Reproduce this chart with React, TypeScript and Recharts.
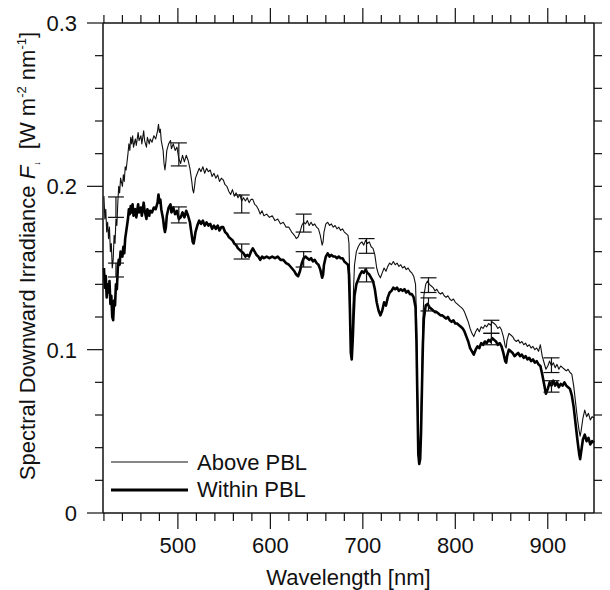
import React from 'react';
import { ComposedChart, Line, Scatter, ErrorBar, XAxis, YAxis, Label } from 'recharts';

// wavelength grid [nm] and the two spectra [W m-2 nm-1]
const wavelengths = [
  420, 421, 422, 423, 424, 425, 426, 427, 428, 429,
  430, 431, 432, 433, 434, 435, 436, 437, 438, 440,
  441, 442, 443, 444, 446, 447, 448, 449, 450, 451,
  452, 454, 455, 457, 458, 460, 461, 463, 464, 466,
  467, 469, 470, 472, 474, 476, 478, 479, 480, 481,
  482, 484, 485, 486, 487, 488, 490, 492, 493, 495,
  497, 499, 501, 503, 505, 507, 509, 511, 513, 515,
  516, 517, 518, 519, 521, 523, 525, 527, 529, 531,
  533, 535, 537, 539, 541, 543, 545, 547, 549, 551,
  553, 555, 557, 559, 561, 563, 565, 567, 569, 571,
  573, 575, 577, 579, 581, 583, 585, 587, 589, 591,
  593, 596, 599, 602, 605, 608, 611, 614, 617, 620,
  623, 626, 628, 630, 632, 634, 636, 638, 640, 642,
  644, 646, 648, 650, 652, 654, 656, 657, 658, 660,
  662, 664, 666, 668, 670, 672, 674, 676, 678, 680,
  682, 684, 685, 686, 687, 688, 689, 690, 691, 693,
  695, 697, 699, 701, 703, 705, 707, 709, 711, 713,
  715, 717, 719, 721, 723, 725, 727, 729, 731, 733,
  735, 737, 739, 741, 743, 745, 747, 749, 751, 753,
  755, 757, 758, 759, 760, 761, 762, 763, 764, 765,
  766, 768, 770, 772, 774, 776, 778, 780, 782, 784,
  786, 788, 790, 792, 794, 796, 798, 800, 802, 804,
  806, 808, 810, 812, 814, 816, 818, 820, 822, 824,
  826, 828, 830, 832, 834, 836, 838, 840, 842, 844,
  846, 848, 850, 852, 854, 855, 856, 858, 860, 862,
  864, 866, 868, 870, 872, 874, 876, 878, 880, 882,
  884, 886, 888, 890, 892, 894, 896, 898, 900, 902,
  904, 906, 908, 910, 912, 914, 916, 918, 920, 922,
  924, 926, 928, 930, 932, 934, 935, 936, 938, 940,
  942, 944, 946, 948, 950,
];

const aboveValues = [
  0.194, 0.180, 0.186, 0.172, 0.178, 0.168, 0.175, 0.160, 0.165, 0.150,
  0.155, 0.170, 0.165, 0.180, 0.176, 0.190, 0.200, 0.196, 0.205, 0.200,
  0.207, 0.203, 0.212, 0.210, 0.220, 0.226, 0.222, 0.230, 0.226, 0.231,
  0.224, 0.229, 0.225, 0.233, 0.228, 0.231, 0.226, 0.234, 0.228, 0.224,
  0.230, 0.226, 0.229, 0.227, 0.231, 0.229, 0.234, 0.238, 0.233, 0.235,
  0.228, 0.222, 0.214, 0.210, 0.215, 0.222, 0.226, 0.228, 0.223, 0.226,
  0.222, 0.224, 0.217, 0.214, 0.219, 0.215, 0.219, 0.216, 0.211, 0.203,
  0.198, 0.196, 0.200, 0.205, 0.208, 0.211, 0.209, 0.212, 0.208, 0.211,
  0.209, 0.210, 0.206, 0.208, 0.205, 0.207, 0.203, 0.205, 0.204, 0.201,
  0.200, 0.197, 0.195, 0.198, 0.194, 0.196, 0.193, 0.195, 0.191, 0.193,
  0.191, 0.193, 0.190, 0.192, 0.192, 0.189, 0.188, 0.186, 0.183, 0.185,
  0.182, 0.183, 0.181, 0.182, 0.179, 0.180, 0.177, 0.178, 0.175, 0.175,
  0.172, 0.170, 0.168, 0.169, 0.172, 0.176, 0.178, 0.177, 0.179, 0.176,
  0.178, 0.176, 0.177, 0.175, 0.174, 0.170, 0.164, 0.166, 0.172, 0.177,
  0.178, 0.176, 0.177, 0.175, 0.176, 0.174, 0.175, 0.173, 0.174, 0.172,
  0.171, 0.170, 0.165, 0.140, 0.112, 0.104, 0.118, 0.138, 0.152, 0.160,
  0.163, 0.165, 0.166, 0.164, 0.167, 0.165, 0.166, 0.163, 0.162, 0.158,
  0.150, 0.146, 0.144, 0.147, 0.150, 0.148, 0.151, 0.153, 0.152, 0.154,
  0.152, 0.153, 0.151, 0.152, 0.150, 0.151, 0.149, 0.150, 0.148, 0.147,
  0.145, 0.140, 0.120, 0.080, 0.045, 0.036, 0.040, 0.060, 0.090, 0.118,
  0.133, 0.140, 0.142, 0.140, 0.139, 0.138, 0.136, 0.137, 0.135, 0.134,
  0.135, 0.133, 0.132, 0.133, 0.131, 0.130, 0.131, 0.129, 0.128, 0.127,
  0.126, 0.125, 0.123, 0.120, 0.117, 0.113, 0.110, 0.108, 0.111, 0.113,
  0.111, 0.114, 0.113, 0.115, 0.114, 0.116, 0.115, 0.117, 0.116, 0.115,
  0.113, 0.114, 0.112, 0.108, 0.102, 0.101, 0.106, 0.110, 0.109, 0.108,
  0.106, 0.105, 0.106, 0.104, 0.105, 0.103, 0.104, 0.102, 0.103, 0.101,
  0.102, 0.100, 0.101, 0.099, 0.103, 0.096, 0.092, 0.088, 0.090, 0.093,
  0.090, 0.092, 0.089, 0.091, 0.088, 0.090, 0.089, 0.088, 0.087, 0.088,
  0.086, 0.085, 0.078, 0.068, 0.058, 0.050, 0.047, 0.050, 0.058, 0.063,
  0.059, 0.061, 0.057, 0.059, 0.058,
];

const withinValues = [
  0.150, 0.138, 0.145, 0.132, 0.140, 0.135, 0.142, 0.128, 0.133, 0.120,
  0.118, 0.130, 0.127, 0.140, 0.137, 0.150, 0.155, 0.152, 0.160, 0.157,
  0.163, 0.159, 0.168, 0.172, 0.180, 0.186, 0.183, 0.188, 0.184, 0.189,
  0.182, 0.186, 0.181, 0.189, 0.184, 0.187, 0.182, 0.190, 0.185, 0.180,
  0.186, 0.182, 0.185, 0.184, 0.187, 0.186, 0.190, 0.195, 0.190, 0.192,
  0.186, 0.180, 0.175, 0.172, 0.175, 0.182, 0.187, 0.189, 0.184, 0.187,
  0.183, 0.185, 0.180, 0.181, 0.184, 0.181, 0.185, 0.182, 0.178, 0.170,
  0.166, 0.165, 0.168, 0.172, 0.176, 0.179, 0.177, 0.179, 0.176, 0.178,
  0.176, 0.177, 0.174, 0.176, 0.174, 0.176, 0.173, 0.175, 0.175, 0.172,
  0.171, 0.169, 0.168, 0.167, 0.165, 0.164, 0.162, 0.161, 0.160, 0.159,
  0.157, 0.158, 0.157, 0.160, 0.162, 0.160, 0.158, 0.157, 0.155, 0.157,
  0.156, 0.157, 0.156, 0.157, 0.156, 0.157, 0.155, 0.155, 0.153, 0.152,
  0.150, 0.148, 0.146, 0.145, 0.148, 0.153, 0.156, 0.157, 0.156, 0.155,
  0.156, 0.154, 0.155, 0.153, 0.152, 0.149, 0.144, 0.146, 0.152, 0.157,
  0.159, 0.157, 0.158, 0.157, 0.157, 0.156, 0.157, 0.156, 0.156, 0.154,
  0.153, 0.152, 0.146, 0.125, 0.098, 0.094, 0.105, 0.120, 0.133, 0.140,
  0.143, 0.146, 0.148, 0.147, 0.149, 0.147, 0.146, 0.144, 0.142, 0.137,
  0.129, 0.124, 0.121, 0.124, 0.129, 0.127, 0.132, 0.135, 0.136, 0.138,
  0.137, 0.138, 0.136, 0.137, 0.136, 0.137, 0.135, 0.136, 0.134, 0.134,
  0.132, 0.126, 0.105, 0.070, 0.036, 0.030, 0.033, 0.050, 0.078, 0.104,
  0.119, 0.127, 0.128, 0.126, 0.125, 0.124, 0.123, 0.123, 0.122, 0.121,
  0.121, 0.120, 0.119, 0.120, 0.118, 0.117, 0.118, 0.116, 0.116, 0.115,
  0.114, 0.113, 0.111, 0.108, 0.105, 0.101, 0.099, 0.097, 0.100, 0.102,
  0.101, 0.104, 0.103, 0.105, 0.104, 0.106, 0.105, 0.107, 0.106, 0.105,
  0.103, 0.104, 0.102, 0.098, 0.093, 0.092, 0.096, 0.100, 0.099, 0.098,
  0.096, 0.097, 0.098, 0.096, 0.097, 0.095, 0.096, 0.094, 0.095, 0.093,
  0.094, 0.092, 0.093, 0.091, 0.090, 0.085, 0.079, 0.073, 0.076, 0.080,
  0.078, 0.081, 0.078, 0.080, 0.077, 0.079, 0.078, 0.080, 0.078, 0.077,
  0.076, 0.072, 0.065, 0.055, 0.045, 0.036, 0.033, 0.037, 0.045, 0.048,
  0.044, 0.046, 0.042, 0.044, 0.043,
];

// error bars: wavelength, lower and upper end
const barWavelengths = [433, 501, 569, 636, 704, 771, 839, 904];
const aboveBarLow = [0.181, 0.2125, 0.1837, 0.172, 0.159, 0.135, 0.110, 0.086];
const aboveBarHigh = [0.1935, 0.2266, 0.1947, 0.183, 0.168, 0.144, 0.118, 0.095];
const withinBarLow = [0.1445, 0.1776, 0.1555, 0.1506, 0.1415, 0.1237, 0.103, 0.074];
const withinBarHigh = [0.153, 0.1874, 0.1647, 0.160, 0.150, 0.1317, 0.110, 0.081];

const xTicks = [420, 440, 460, 480, 500, 520, 540, 560, 580, 600, 620, 640, 660, 680, 700,
  720, 740, 760, 780, 800, 820, 840, 860, 880, 900, 920, 940];
const yTicks = [0, 0.02, 0.04, 0.06, 0.08, 0.1, 0.12, 0.14, 0.16, 0.18, 0.2, 0.22, 0.24, 0.26, 0.28, 0.3];

const FONT = '"Liberation Sans", Arial, Helvetica, sans-serif';
const INK = '#111';

// plot box inside the svg (set by the axis sizes below)
const PLOT_TOP = 15;
const PLOT_RIGHT = 586;

const spectrum = wavelengths.map((x, i) => ({ x, above: aboveValues[i], within: withinValues[i] }));

const toBars = (low: number[], high: number[]) =>
  barWavelengths.map((x, i) => {
    const mid = (low[i] + high[i]) / 2;
    return { x, y: mid, err: [mid - low[i], high[i] - mid] };
  });

const isMajorX = (v: number) => v % 100 === 0;
const isMajorY = (v: number) => Math.abs(v * 10 - Math.round(v * 10)) < 1e-6;

// bottom tick + mirrored top tick, both pointing outwards
const XTick = ({ x, y, payload }: any) => {
  const major = isMajorX(payload.value);
  const len = major ? 16 : 8;
  return (
    <g>
      <line x1={x} y1={y} x2={x} y2={y + len} stroke={INK} strokeWidth={1.2} />
      <line x1={x} y1={PLOT_TOP} x2={x} y2={PLOT_TOP - len} stroke={INK} strokeWidth={1.2} />
      {major && (
        <text x={x} y={y + 40} textAnchor="middle" fontSize={22} fontFamily={FONT} fill={INK}>
          {payload.value}
        </text>
      )}
    </g>
  );
};

// left tick + mirrored right tick
const YTick = ({ x, y, payload }: any) => {
  const v = payload.value;
  const major = isMajorY(v);
  const len = major ? 16 : 8;
  return (
    <g>
      <line x1={x} y1={y} x2={x - len} y2={y} stroke={INK} strokeWidth={1.2} />
      <line x1={PLOT_RIGHT} y1={y} x2={PLOT_RIGHT + len} y2={y} stroke={INK} strokeWidth={1.2} />
      {major && (
        <text x={x - 26} y={y} dy="0.36em" textAnchor="end" fontSize={22} fontFamily={FONT} fill={INK}>
          {v === 0 ? '0' : v.toFixed(1)}
        </text>
      )}
    </g>
  );
};

const YTitle = ({ viewBox }: any) => {
  const x = viewBox.x + 27;
  const y = viewBox.y + 233;
  return (
    <text x={x} y={y} transform={`rotate(-90, ${x}, ${y})`} textAnchor="middle"
      fontSize={22} fontFamily={FONT} fill={INK} style={{ whiteSpace: 'pre' }}>
      <tspan>Spectral Downward Irradiance </tspan>
      <tspan fontStyle="italic">F</tspan>
      <tspan fontSize={9} dy={5}>↓</tspan>
      <tspan dy={-5}>{'  [W m'}</tspan>
      <tspan fontSize={13} dy={-9}>-2</tspan>
      <tspan dy={9}> nm</tspan>
      <tspan fontSize={13} dy={-9}>-1</tspan>
      <tspan dy={9}>]</tspan>
    </text>
  );
};

const XTitle = ({ viewBox }: any) => (
  <text x={viewBox.x + viewBox.width / 2} y={viewBox.y + 72} textAnchor="middle"
    fontSize={22} fontFamily={FONT} fill={INK}>
    Wavelength [nm]
  </text>
);

// legend drawn inside the plot, bottom left
const LegendBox = ({ viewBox }: any) => {
  const x0 = viewBox.x;
  const y0 = viewBox.y;
  return (
    <g fontFamily={FONT} fontSize={22} fill={INK}>
      <line x1={x0 + 8} y1={y0 - 51} x2={x0 + 85} y2={y0 - 51} stroke={INK} strokeWidth={1.2} />
      <text x={x0 + 94} y={y0 - 43}>Above PBL</text>
      <line x1={x0 + 8} y1={y0 - 23} x2={x0 + 85} y2={y0 - 23} stroke="#000" strokeWidth={3} />
      <text x={x0 + 94} y={y0 - 16}>Within PBL</text>
    </g>
  );
};

const noShape = () => <g />;

export default function App() {
  return (
    <ComposedChart width={602} height={582} data={spectrum} margin={{ top: 0, right: 0, bottom: 0, left: 0 }}>
      <XAxis dataKey="x" type="number" domain={[419, 950]} ticks={xTicks} interval={0}
        tickSize={0} tickMargin={0} tickLine={false} height={77}
        axisLine={{ stroke: INK, strokeWidth: 1.5 }} tick={<XTick />}>
        <Label content={<XTitle />} />
        <Label content={<LegendBox />} />
      </XAxis>
      <XAxis xAxisId="top" orientation="top" dataKey="x" type="number" domain={[419, 950]}
        tick={false} tickLine={false} height={PLOT_TOP}
        axisLine={{ stroke: INK, strokeWidth: 1.5 }} />
      <YAxis type="number" domain={[0, 0.3]} ticks={yTicks} interval={0} width={95}
        tickSize={0} tickMargin={0} tickLine={false}
        axisLine={{ stroke: INK, strokeWidth: 1.5 }} tick={<YTick />}>
        <Label content={<YTitle />} />
      </YAxis>
      <YAxis yAxisId="right" orientation="right" type="number" domain={[0, 0.3]}
        tick={false} tickLine={false} width={602 - PLOT_RIGHT}
        axisLine={{ stroke: INK, strokeWidth: 1.5 }} />

      <Line type="linear" dataKey="above" stroke={INK} strokeWidth={1.1} dot={false}
        isAnimationActive={false} strokeLinejoin="round" />
      <Line type="linear" dataKey="within" stroke="#000" strokeWidth={2.6} dot={false}
        isAnimationActive={false} strokeLinejoin="round" />

      <Scatter data={toBars(aboveBarLow, aboveBarHigh)} dataKey="y" shape={noShape} isAnimationActive={false}>
        <ErrorBar dataKey="err" direction="y" width={8} stroke={INK} strokeWidth={1.2} isAnimationActive={false} />
      </Scatter>
      <Scatter data={toBars(withinBarLow, withinBarHigh)} dataKey="y" shape={noShape} isAnimationActive={false}>
        <ErrorBar dataKey="err" direction="y" width={8} stroke={INK} strokeWidth={1.2} isAnimationActive={false} />
      </Scatter>
    </ComposedChart>
  );
}
